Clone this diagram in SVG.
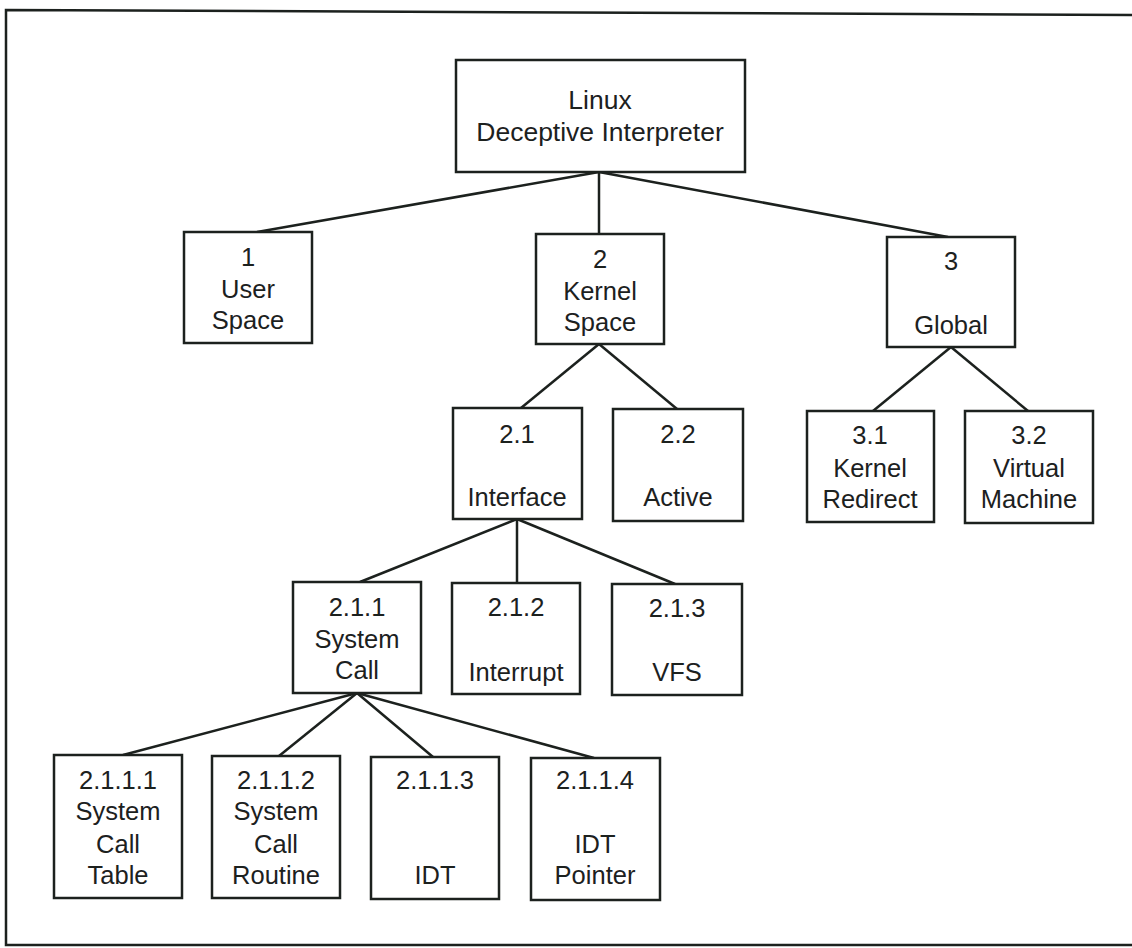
<svg xmlns="http://www.w3.org/2000/svg" width="1132" height="948" viewBox="0 0 1132 948">
<style>
.box{fill:#fff;stroke:#1c211e;stroke-width:2.5}
.ln{fill:none;stroke:#1c211e;stroke-width:2.5}
text{font-family:"Liberation Sans",Arial,sans-serif;font-size:25.5px;fill:#1c211e;text-anchor:middle}
.root text{font-size:26.5px}
</style>
<rect width="1132" height="948" fill="#fff"/>
<polyline class="ln" points="1132,15 6,10 6,945 1132,945"/>
<g id="connectors" class="ln">
<line x1="599" y1="172" x2="257" y2="232"/>
<line x1="599" y1="172" x2="599" y2="234"/>
<line x1="599" y1="172" x2="948" y2="237"/>
<line x1="599" y1="344" x2="521" y2="408"/>
<line x1="599" y1="344" x2="677" y2="409"/>
<line x1="951" y1="347" x2="873" y2="411"/>
<line x1="951" y1="347" x2="1028" y2="411"/>
<line x1="517" y1="519" x2="360" y2="582"/>
<line x1="517" y1="519" x2="517" y2="583"/>
<line x1="517" y1="519" x2="675" y2="584"/>
<line x1="357" y1="693" x2="123" y2="755"/>
<line x1="357" y1="693" x2="279" y2="756"/>
<line x1="357" y1="693" x2="433" y2="757"/>
<line x1="357" y1="693" x2="594" y2="758"/>
</g>
<g id="root" class="root"><rect class="box" x="456" y="60" width="289" height="112"/><text x="600" y="109">Linux</text><text x="600" y="141">Deceptive Interpreter</text></g>
<g id="n1"><rect class="box" x="184" y="232" width="128" height="111"/><text x="248" y="266">1</text><text x="248" y="298">User</text><text x="248" y="329">Space</text></g>
<g id="n2"><rect class="box" x="536" y="234" width="128" height="110"/><text x="600" y="268">2</text><text x="600" y="300">Kernel</text><text x="600" y="331">Space</text></g>
<g id="n3"><rect class="box" x="887" y="237" width="128" height="110"/><text x="951" y="270">3</text><text x="951" y="334">Global</text></g>
<g id="n2_1"><rect class="box" x="453" y="408" width="129" height="111"/><text x="517" y="443">2.1</text><text x="517" y="506">Interface</text></g>
<g id="n2_2"><rect class="box" x="613" y="409" width="130" height="112"/><text x="678" y="443">2.2</text><text x="678" y="506">Active</text></g>
<g id="n3_1"><rect class="box" x="807" y="411" width="127" height="111"/><text x="870" y="444">3.1</text><text x="870" y="477">Kernel</text><text x="870" y="508">Redirect</text></g>
<g id="n3_2"><rect class="box" x="965" y="411" width="128" height="112"/><text x="1029" y="444">3.2</text><text x="1029" y="477">Virtual</text><text x="1029" y="508">Machine</text></g>
<g id="n2_1_1"><rect class="box" x="293" y="582" width="128" height="111"/><text x="357" y="616">2.1.1</text><text x="357" y="648">System</text><text x="357" y="679">Call</text></g>
<g id="n2_1_2"><rect class="box" x="452" y="583" width="128" height="111"/><text x="516" y="616">2.1.2</text><text x="516" y="681">Interrupt</text></g>
<g id="n2_1_3"><rect class="box" x="612" y="584" width="130" height="111"/><text x="677" y="617">2.1.3</text><text x="677" y="681">VFS</text></g>
<g id="n2_1_1_1"><rect class="box" x="54" y="755" width="128" height="143"/><text x="118" y="789">2.1.1.1</text><text x="118" y="820">System</text><text x="118" y="853">Call</text><text x="118" y="884">Table</text></g>
<g id="n2_1_1_2"><rect class="box" x="212" y="756" width="128" height="142"/><text x="276" y="789">2.1.1.2</text><text x="276" y="820">System</text><text x="276" y="853">Call</text><text x="276" y="884">Routine</text></g>
<g id="n2_1_1_3"><rect class="box" x="371" y="757" width="128" height="142"/><text x="435" y="789">2.1.1.3</text><text x="435" y="884">IDT</text></g>
<g id="n2_1_1_4"><rect class="box" x="531" y="758" width="129" height="142"/><text x="595" y="789">2.1.1.4</text><text x="595" y="853">IDT</text><text x="595" y="884">Pointer</text></g>
</svg>
